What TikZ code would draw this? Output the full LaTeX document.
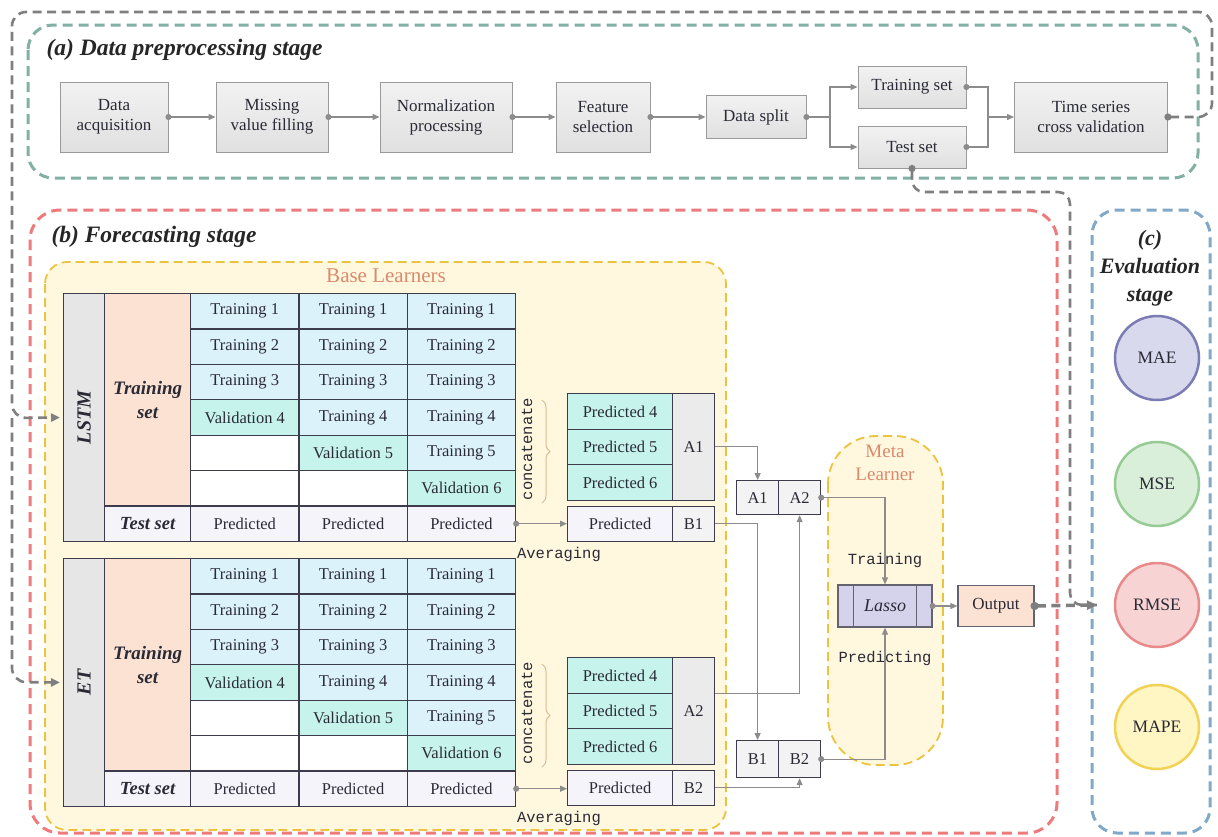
\documentclass[tikz,border=0pt]{standalone}
\usepackage{fontspec}
\setmainfont{Liberation Serif}
\newfontfamily\monof{Liberation Mono}
\usetikzlibrary{arrows.meta,decorations.pathreplacing,calc,shapes.geometric}
\newcommand\fsz[2]{\fontsize{#1}{#2}\selectfont}
\definecolor{procb}{HTML}{9A9A9A}
\definecolor{procT}{HTML}{F2F2F2}
\definecolor{procB}{HTML}{E0E0E0}
\definecolor{conc}{HTML}{8C8C8C}
\definecolor{gdc}{HTML}{7F7F7F}
\definecolor{greenc}{HTML}{82B0A5}
\definecolor{redc}{HTML}{EE7B7B}
\definecolor{yelc}{HTML}{EBC33F}
\definecolor{yelfill}{HTML}{FFF8DE}
\definecolor{bluec}{HTML}{82A8C8}
\definecolor{tblc}{HTML}{3C3C4C}
\definecolor{txtc}{HTML}{2A2A36}
\definecolor{trainc}{HTML}{DBF2FA}
\definecolor{valc}{HTML}{C6F3EC}
\definecolor{predc}{HTML}{F6F4FB}
\definecolor{peachc}{HTML}{FBE2D2}
\definecolor{modelc}{HTML}{E6E6E6}
\definecolor{acellc}{HTML}{EBEBEB}
\definecolor{bcellc}{HTML}{F3F3F3}
\definecolor{salmon}{HTML}{DA8A6C}
\definecolor{lassof}{HTML}{D5D3EB}
\definecolor{maef}{HTML}{D9D9EE}\definecolor{maeb}{HTML}{7C7CB4}
\definecolor{msef}{HTML}{DAEFD9}\definecolor{mseb}{HTML}{96CC94}
\definecolor{rmsef}{HTML}{F7D3D3}\definecolor{rmseb}{HTML}{E98A8A}
\definecolor{mapef}{HTML}{FFF6C4}\definecolor{mapeb}{HTML}{F1D254}
\tikzset{
  proc/.style={draw=procb, line width=0.9pt, top color=procT, bottom color=procB, align=center, font=\fsz{17}{20}, text=txtc, inner sep=2pt},
  conn/.style={draw=conc, line width=1.2pt},
  arr/.style={conn, -{Triangle[length=7pt,width=6pt]}},
  darr/.style={conn, {Circle[length=6pt]}-{Triangle[length=7pt,width=6pt]}, shorten <=-3pt},
  dotl/.style={conn, {Circle[length=6pt]}-, shorten <=-3pt},
  gdash/.style={draw=gdc, line width=2.6pt, dash pattern=on 9pt off 5.5pt},
  tcell/.style={anchor=north west, draw=tblc, line width=1.2pt, inner sep=0pt, font=\fsz{16.5}{19}, text=txtc},
  brace/.style={draw=brown!55!white, line width=1pt, decorate, decoration={brace, amplitude=8pt}},
  mono/.style={font=\monof\fsz{15.5}{18}, text=txtc},
  ttl/.style={font=\fsz{23.5}{27}\bfseries\itshape, text=black!85},
  metric/.style={circle, line width=2.5pt, minimum size=84pt, font=\fsz{17.5}{20}, text=txtc},
}
\newcommand\basetable[3]{%
  \node[tcell, fill=modelc, minimum width=41pt, minimum height=247.8pt] (#1-model) at (63,#2) {\rotatebox{90}{\fsz{20}{23}\bfseries\itshape #3}};
  \node[tcell, fill=peachc, minimum width=86pt, minimum height=212.4pt, align=center, font=\fsz{19}{24}\bfseries\itshape] (#1-trl) at (104,#2) {Training\\set};
  \node[tcell, fill=predc, minimum width=86pt, minimum height=35.4pt, font=\fsz{18.5}{21}\bfseries\itshape] (#1-tsl) at (104,{#2+212.4}) {Test set};
  \foreach \cc in {1,2,3}{%
    \foreach \rr in {1,...,6}{%
      \pgfmathtruncatemacro\kk{\rr-\cc-3}%
      \ifnum\kk<0 \def\cf{trainc}\def\ct{Training \rr}\else\ifnum\kk=0 \def\cf{valc}\def\ct{Validation \rr}\else\def\cf{white}\def\ct{}\fi\fi
      \node[tcell, fill=\cf, minimum width=108.33pt, minimum height=35.4pt] (#1-\rr-\cc) at ({190+(\cc-1)*108.33},{#2+(\rr-1)*35.4}) {\ct};
    }%
    \node[tcell, fill=predc, minimum width=108.33pt, minimum height=35.4pt] (#1-7-\cc) at ({190+(\cc-1)*108.33},{#2+212.4}) {Predicted};
  }%
}
\newcommand\predgroup[4]{%
  \node[tcell, fill=valc, minimum width=105pt, minimum height=35.5pt] (#1-p4) at (567,#2) {Predicted 4};
  \node[tcell, fill=valc, minimum width=105pt, minimum height=35.5pt] (#1-p5) at (567,{#2+35.5}) {Predicted 5};
  \node[tcell, fill=valc, minimum width=105pt, minimum height=35.5pt] (#1-p6) at (567,{#2+71}) {Predicted 6};
  \node[tcell, fill=acellc, minimum width=42pt, minimum height=106.5pt] (#1-A) at (672,#2) {#3};
  \node[tcell, fill=predc, minimum width=105pt, minimum height=35.5pt] (#1-pp) at (567,{#2+112.5}) {Predicted};
  \node[tcell, fill=bcellc, minimum width=42pt, minimum height=35.5pt] (#1-B) at (672,{#2+112.5}) {#4};
  \node[mono, rotate=90] (#1-cat) at (527,{#2+56}) {concatenate};
  \draw[brace] (542,{#2+7}) -- (542,{#2+110});
  \node[mono] (#1-avg) at (559,{#2+161}) {Averaging};
}
\begin{document}
\begin{tikzpicture}[x=1pt,y=-1pt]
\useasboundingbox (0,0) rectangle (1218,836);
\fill[white] (0,0) rectangle (1218,836);
% ---------- (a) ----------
\draw[draw=greenc, line width=3pt, dash pattern=on 10pt off 6pt, rounded corners=25] (28,25) rectangle (1198,178);
\node[ttl, anchor=west] (ta) at (43,50) {(a) Data preprocessing stage};
\node[proc, minimum width=108pt, minimum height=70pt] (da) at (114,117) {Data\\acquisition};
\node[proc, minimum width=112pt, minimum height=70pt] (mv) at (272,117) {Missing\\value filling};
\node[proc, minimum width=132pt, minimum height=70pt] (np) at (446,117) {Normalization\\processing};
\node[proc, minimum width=94pt, minimum height=70pt] (fs) at (603,117) {Feature\\selection};
\node[proc, minimum width=100pt, minimum height=43pt] (ds) at (756,117) {Data split};
\node[proc, minimum width=108pt, minimum height=42pt] (trs) at (912,87) {Training set};
\node[proc, minimum width=108pt, minimum height=42pt] (tes) at (912,147) {Test set};
\node[proc, minimum width=153pt, minimum height=70pt] (tscv) at (1091,117) {Time series\\cross validation};
\draw[darr] (da.east) -- (mv.west);
\draw[darr] (mv.east) -- (np.west);
\draw[darr] (np.east) -- (fs.west);
\draw[darr] (fs.east) -- (ds.west);
\coordinate (split) at (830,117);
\coordinate (merge) at (988,117);
\draw[dotl] (ds.east) -- (split);
\draw[arr] (split) |- (trs.west);
\draw[arr] (split) |- (tes.west);
\draw[dotl] (trs.east) -| (merge);
\draw[dotl] (tes.east) -| (merge);
\draw[arr] (merge) -- (tscv.west);
% ---------- (b) ----------
\draw[draw=redc, line width=3pt, dash pattern=on 10pt off 6pt, rounded corners=30] (30,210) rectangle (1057,833);
\node[ttl, anchor=west] (tb) at (48,237) {(b) Forecasting stage};
\draw[draw=yelc, fill=yelfill, line width=1.8pt, dash pattern=on 9pt off 5pt, rounded corners=22] (45,262) rectangle (726,830);
\node[font=\fsz{21}{24}, text=salmon] (bl) at (386,276) {Base Learners};
\basetable{L}{293}{LSTM}
\basetable{E}{558}{ET}
\predgroup{LP}{393}{A1}{B1}
\predgroup{EP}{657}{A2}{B2}
\draw[darr] (L-7-3.east) -- (L-7-3.east -| LP-pp.west);
\draw[darr] (E-7-3.east) -- (E-7-3.east -| EP-pp.west);
% combined boxes
\node[tcell, fill=bcellc, minimum width=42pt, minimum height=34pt] (AA1) at (736,480) {A1};
\node[tcell, fill=bcellc, minimum width=42pt, minimum height=34pt] (AA2) at (778,480) {A2};
\node[tcell, fill=bcellc, minimum width=42pt, minimum height=37pt] (BB1) at (736,740) {B1};
\node[tcell, fill=bcellc, minimum width=42pt, minimum height=37pt] (BB2) at (778,740) {B2};
% meta learner
\draw[draw=yelc, fill=yelfill, line width=1.8pt, dash pattern=on 9pt off 5pt, rounded corners=48] (828,436) rectangle (943,765);
\node[font=\fsz{19}{23}, text=salmon, align=center] (mt) at (885,463) {Meta\\Learner};
\node[mono] (mtr) at (885,560) {Training};
\node[mono] (mpr) at (885,658) {Predicting};
\node[draw=tblc!80, line width=1.2pt, fill=lassof, minimum width=94pt, minimum height=42pt, inner sep=0pt, font=\fsz{18}{20}\itshape, text=txtc] (lasso) at (885,606) {Lasso};
\draw[draw=tblc!80, line width=1.2pt] ([xshift=16pt]lasso.north west) -- ([xshift=16pt]lasso.south west);
\draw[draw=tblc!80, line width=1.2pt] ([xshift=-16pt]lasso.north east) -- ([xshift=-16pt]lasso.south east);
\node[draw=tblc!80, line width=1.2pt, fill=peachc, minimum width=76pt, minimum height=41pt, inner sep=0pt, font=\fsz{17}{20}, text=txtc] (out) at (996,606) {Output};
\draw[arr] (LP-A.east) -| (AA1.north);
\draw[arr] (LP-B.east) -| (BB1.north);
\draw[arr] ([yshift=17pt]EP-A.east) -| (AA2.south);
\draw[arr] (EP-B.east) -| (BB2.south);
\draw[darr] (AA2.east) -| (lasso.north);
\draw[darr] (BB2.east) -| (lasso.south);
\draw[darr] (lasso.east) -- (out.west);
% ---------- (c) ----------
\draw[draw=bluec, line width=3pt, dash pattern=on 10pt off 6pt, rounded corners=25] (1092,210) rectangle (1210,833);
\node[font=\fsz{22}{28}\bfseries\itshape, text=black!85, align=center] (tc) at (1150,268) {(c)\\Evaluation\\stage};
\node[metric, draw=maeb, fill=maef] (mae) at (1157,358) {MAE};
\node[metric, draw=mseb, fill=msef] (mse) at (1157,484) {MSE};
\node[metric, draw=rmseb, fill=rmsef] (rmse) at (1157,605) {RMSE};
\node[metric, draw=mapeb, fill=mapef] (mape) at (1157,727) {MAPE};
% ---------- dashed flows ----------
\coordinate (evin) at (1097,605);
\draw[gdash, rounded corners=14, {Circle[length=7pt]}-{Triangle[length=9pt,width=8pt]}, shorten <=-3.5pt] (tscv.east) -- (1212,117) -- (1212,12) -- (12,12) -- (12,418) -- ([xshift=-3pt]L-model.west);
\draw[gdash, rounded corners=14, -{Triangle[length=9pt,width=8pt]}] (12,418) -- (12,682) -- ([xshift=-3pt]E-model.west);
\draw[gdash, rounded corners=12, {Circle[length=7pt]}-, shorten <=-3.5pt] (tes.south) -- (912,192) -- (1070,192) -- (1070,605) -- (evin);
\draw[gdash, line width=3.5pt, {Circle[length=8pt]}-{Triangle[length=10pt,width=9pt]}, shorten <=-4pt] (out.east) -- (evin);
\end{tikzpicture}
\end{document}
